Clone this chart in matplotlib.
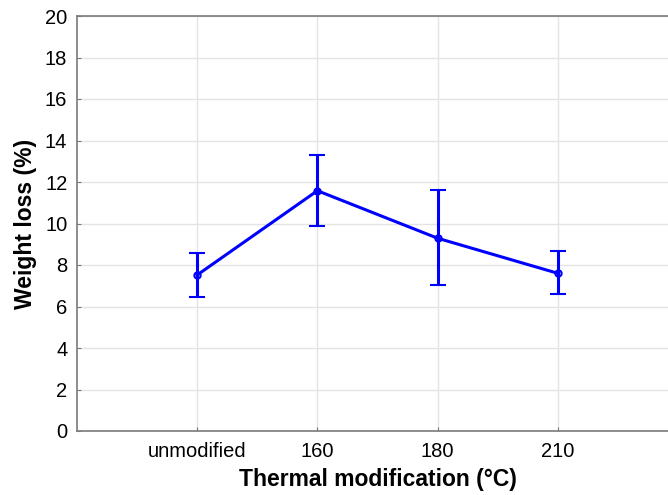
import matplotlib
matplotlib.use("Agg")
import matplotlib.pyplot as plt

plt.rcParams["font.family"] = ["Liberation Sans", "DejaVu Sans"]

categories = ["unmodified", "160", "180", "210"]
weight_loss = [7.52, 11.58, 9.29, 7.60]
err_low = [6.47, 9.88, 7.04, 6.59]
err_high = [8.59, 13.30, 11.61, 8.67]

xs = list(range(1, len(categories) + 1))
yerr = [[m - lo for m, lo in zip(weight_loss, err_low)],
        [hi - m for m, hi in zip(weight_loss, err_high)]]

fig = plt.figure(figsize=(6.68, 4.95), dpi=100)
# right edge of the plot area runs past the image, as in the original
ax = fig.add_axes([77 / 668, 64 / 495, 601 / 668, 415 / 495])

ax.errorbar(xs, weight_loss, yerr=yerr, color="#0000ff", lw=2.2,
            marker="o", ms=4.5, mfc="none", mew=1.5,
            capsize=6, capthick=2.2, elinewidth=2.2, zorder=3)

ax.set_xlim(0, 5)
ax.set_ylim(0, 20)
ax.set_xticks(xs)
ax.set_xticklabels(categories)
ax.set_yticks(range(0, 21, 2))
ax.grid(True, color="#e4e4e4", lw=1)
ax.set_axisbelow(True)
for s in ax.spines.values():
    s.set_color("#7a7a7a")
    s.set_linewidth(1.2)
ax.tick_params(axis="both", labelsize=14.5, length=3, direction="in", color="#7a7a7a")
ax.tick_params(axis="x", pad=8)
ax.tick_params(axis="y", pad=7)
ax.set_xlabel("Thermal modification (°C)", fontsize=16.5, fontweight="bold", labelpad=5)
ax.set_ylabel("Weight loss (%)", fontsize=16.5, fontweight="bold", labelpad=6)

fig.savefig("out.png", dpi=100)
